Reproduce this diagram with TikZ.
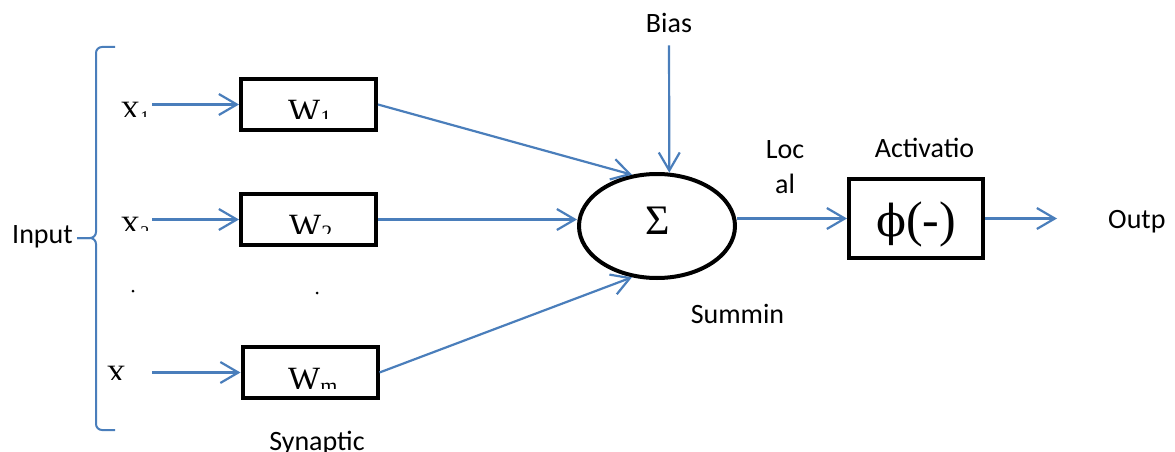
\documentclass[tikz,border=0pt]{standalone}
\usepackage{fontspec}
\setmainfont{Carlito}
\newfontfamily\tnr{Liberation Serif}
\newfontfamily\dvs{DejaVu Serif}
\usetikzlibrary{arrows.meta,shapes.geometric}
\definecolor{wblue}{RGB}{74,126,187}
\begin{document}
\begin{tikzpicture}[x=1pt,y=-1pt,
  conn/.style={draw=wblue, line width=2.2pt, -{Straight Barb[length=18pt,width=21pt]}},
  wbox/.style={draw, line width=4pt, minimum width=135pt, minimum height=51pt, inner sep=0pt},
  lbl/.style={inner sep=0pt, font=\fontsize{28}{34}\selectfont},
  xlbl/.style={inner sep=0pt, anchor=base west, font=\tnr\fontsize{28}{34}\selectfont},
  wlbl/.style={inner sep=0pt, anchor=base west, font=\tnr\fontsize{34}{40}\selectfont},
  dotnode/.style={circle, fill, inner sep=0pt, minimum size=3pt}
]
\useasboundingbox (0,0) rectangle (1175,452);
\clip (0,0) rectangle (1175,452);

% weight boxes
\node[wbox] (W1) at (308.5,104.5) {};
\node[wbox] (W2) at (308.5,219.5) {};
\node[wbox] (Wm) at (310,372.5) {};

% clipped labels
\begin{scope}
\clip (100,95) rectangle (160,116);
\node[xlbl] (x1) at (120,120.5) {X\raisebox{-3pt}{\fontsize{18}{18}\selectfont 1}};
\end{scope}
\begin{scope}
\clip (100,210) rectangle (160,230);
\node[xlbl] (x2) at (120,235.2) {X\raisebox{-3pt}{\fontsize{18}{18}\selectfont 2}};
\end{scope}
\begin{scope}
\clip (95,360) rectangle (150,379);
\node[xlbl] (xm) at (106,384.5) {X\raisebox{-7pt}{\fontsize{18}{18}\selectfont m}};
\end{scope}
\begin{scope}
\clip (280,95) rectangle (345,118);
\node[wlbl] (w1t) at (288,122.5) {W\raisebox{-3pt}{\fontsize{22}{22}\selectfont 1}};
\end{scope}
\begin{scope}
\clip (280,210) rectangle (345,233);
\node[wlbl] (w2t) at (289,237.5) {W\raisebox{-3pt}{\fontsize{22}{22}\selectfont 2}};
\end{scope}
\begin{scope}
\clip (280,360) rectangle (350,388);
\node[wlbl] (wmt) at (288,390.5) {W\raisebox{-3pt}{\fontsize{22}{22}\selectfont m}};
\end{scope}

% dots
\node[dotnode] (dot1) at (133,291) {};
\node[dotnode] (dot2) at (317,293) {};

% summing junction
\node[draw, ellipse, line width=4pt, minimum width=156pt, minimum height=104pt, inner sep=0pt] (sum) at (657,226) {};
\node[inner sep=0pt, anchor=base, font=\tnr\fontsize{42}{46}\selectfont] (sig) at (658,234) {Σ};

% activation box
\node[draw, line width=4pt, minimum width=134pt, minimum height=79pt, inner sep=0pt] (phi) at (916,218.5) {};
\node[inner sep=0pt, anchor=base, font=\tnr\fontsize{50}{54}\selectfont] (phit) at (916,236) {{\dvs\fontsize{44}{48}\selectfont ϕ}(-)};

% texts
\node[lbl, anchor=base west] (inp) at (12,243) {Input};
\node[lbl, anchor=base] (bias) at (669,33) {Bias};
\node[lbl, anchor=base] (loc1) at (785,158) {Loc};
\node[lbl, anchor=base] (loc2) at (785,193) {al};
\node[lbl, anchor=base] (act) at (924.5,157) {Activatio};
\node[lbl, anchor=base] (summ) at (737.5,323) {Summin};
\node[lbl, anchor=base] (syn) at (317,450) {Synaptic};
\node[lbl, anchor=base west] (outp) at (1108,228) {Outp};

% brace
\coordinate (brtop) at (115,47);
\coordinate (brbot) at (115,430);
\coordinate (brtip) at (77,238);
\draw[wblue, line width=2pt, rounded corners=6pt] (brtop) -| (96,238) -- (brtip);
\draw[wblue, line width=2pt, rounded corners=6pt] (brbot) -| (96,238) -- (brtip);

% input arrows
\coordinate (x1s) at (152,104.5);
\coordinate (x2s) at (152,219.5);
\coordinate (xms) at (152,372.5);
\draw[conn] (x1s) -- (W1.west);
\draw[conn] (x2s) -- (W2.west);
\draw[conn] (xms) -- (Wm.west);

% weights to sum
\draw[conn] (W1.east) -- (sum.116);
\draw[conn] (W2.east) -- (W2.east -| sum.west);
\draw[conn] (Wm.east) -- (sum.244);
\draw[conn, shorten <=12pt] (bias.south) -- (sum.77);

% sum to activation to output
\draw[conn] (phi.west -| sum.east) -- (phi.west);
\coordinate (outend) at (1057,218.5);
\draw[conn] (phi.east) -- (outend);
\end{tikzpicture}
\end{document}
